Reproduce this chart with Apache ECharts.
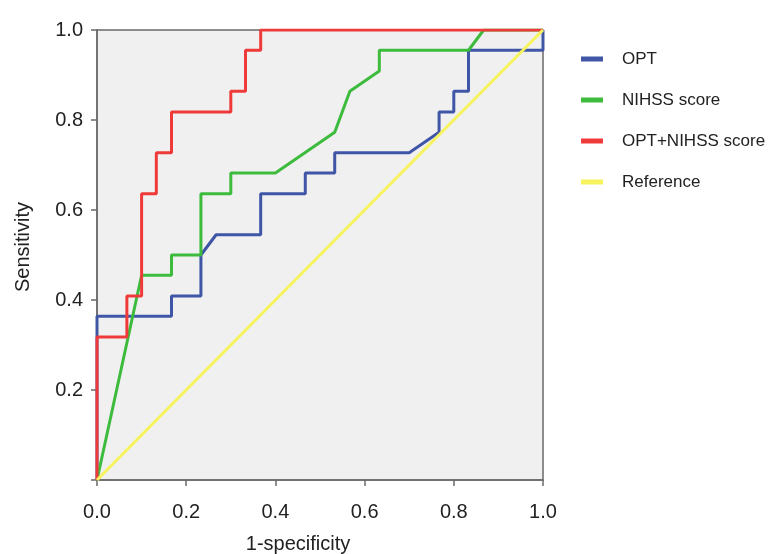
<!DOCTYPE html>
<html>
<head>
<meta charset="utf-8">
<script src="https://cdn.jsdelivr.net/npm/echarts@6/dist/echarts.min.js"></script>
<style>
  html, body { margin: 0; padding: 0; background: #fff; }
  #chart { width: 772px; height: 554px; }
</style>
</head>
<body>
<div id="chart"></div>
<script>
  // ROC curve corner points
  const seriesNames = ['OPT', 'NIHSS score', 'OPT+NIHSS score', 'Reference'];

  const optX = [0, 0, 0.167, 0.167, 0.233, 0.233, 0.267, 0.367, 0.367, 0.467, 0.467, 0.533, 0.533, 0.7, 0.767, 0.767, 0.8, 0.8, 0.833, 0.833, 1, 1];
  const optY = [0, 0.364, 0.364, 0.409, 0.409, 0.5, 0.545, 0.545, 0.636, 0.636, 0.682, 0.682, 0.727, 0.727, 0.773, 0.818, 0.818, 0.864, 0.864, 0.955, 0.955, 1];

  const nihssX = [0, 0.1, 0.167, 0.167, 0.233, 0.233, 0.3, 0.3, 0.4, 0.533, 0.567, 0.633, 0.633, 0.833, 0.867, 1];
  const nihssY = [0, 0.455, 0.455, 0.5, 0.5, 0.636, 0.636, 0.682, 0.682, 0.773, 0.864, 0.909, 0.955, 0.955, 1, 1];

  const comboX = [0, 0, 0.067, 0.067, 0.1, 0.1, 0.133, 0.133, 0.167, 0.167, 0.3, 0.3, 0.333, 0.333, 0.367, 0.367, 1];
  const comboY = [0, 0.318, 0.318, 0.409, 0.409, 0.636, 0.636, 0.727, 0.727, 0.818, 0.818, 0.864, 0.864, 0.955, 0.955, 1, 1];

  const refX = [0, 1];
  const refY = [0, 1];

  const colors = ['#3f56a6', '#3dbb3d', '#ef3a3a', '#f6f35c'];

  function pairs(xs, ys) {
    return xs.map((x, i) => [x, ys[i]]);
  }

  const chart = echarts.init(document.getElementById('chart'));

  function lineSeries(name, data, color) {
    return {
      name: name,
      type: 'line',
      data: data,
      showSymbol: false,
      symbol: 'none',
      lineStyle: { color: color, width: 3 },
      itemStyle: { color: color },
      emphasis: { disabled: true },
      animation: false
    };
  }

  const option = {
    backgroundColor: '#fff',
    textStyle: { fontFamily: 'Liberation Sans, Arial, sans-serif' },
    grid: {
      left: 97,
      top: 30,
      width: 446,
      height: 450,
      outerBoundsMode: 'none',
      show: true,
      backgroundColor: '#f0f0f0',
      borderColor: '#6a6a6a',
      borderWidth: 1.5
    },
    legend: {
      orient: 'vertical',
      left: 576,
      top: 44,
      icon: 'rect',
      itemWidth: 22,
      itemHeight: 5,
      itemGap: 21,
      data: seriesNames,
      textStyle: {
        fontSize: 17,
        color: '#222',
        lineHeight: 20,
        padding: [0, 0, 0, 14]
      }
    },
    xAxis: {
      type: 'value',
      min: 0,
      max: 1,
      interval: 0.2,
      name: '1-specificity',
      nameLocation: 'middle',
      nameGap: 54,
      nameTextStyle: { fontSize: 20, color: '#222', padding: [0, 44, 0, 0] },
      axisLine: { show: true, lineStyle: { color: '#6a6a6a', width: 1.5 } },
      axisTick: { show: true, inside: false, length: 6, lineStyle: { color: '#6a6a6a', width: 1.5 } },
      axisLabel: {
        fontSize: 20,
        color: '#222',
        margin: 22,
        formatter: v => v.toFixed(1)
      },
      splitLine: { show: false }
    },
    yAxis: {
      type: 'value',
      min: 0,
      max: 1,
      interval: 0.2,
      name: 'Sensitivity',
      nameLocation: 'middle',
      nameGap: 64,
      nameRotate: 90,
      nameTextStyle: { fontSize: 20, color: '#222', padding: [0, 0, 0, 16] },
      axisLine: { show: true, lineStyle: { color: '#6a6a6a', width: 1.5 } },
      axisTick: { show: true, inside: false, length: 6, lineStyle: { color: '#6a6a6a', width: 1.5 } },
      axisLabel: {
        fontSize: 20,
        color: '#222',
        margin: 14,
        padding: [0, 0, 8, 0],
        formatter: v => (v === 0 ? '' : v.toFixed(1))
      },
      splitLine: { show: false }
    },
    series: [
      lineSeries(seriesNames[0], pairs(optX, optY), colors[0]),
      lineSeries(seriesNames[1], pairs(nihssX, nihssY), colors[1]),
      lineSeries(seriesNames[2], pairs(comboX, comboY), colors[2]),
      lineSeries(seriesNames[3], pairs(refX, refY), colors[3])
    ]
  };

  option && chart.setOption(option);
</script>
</body>
</html>
